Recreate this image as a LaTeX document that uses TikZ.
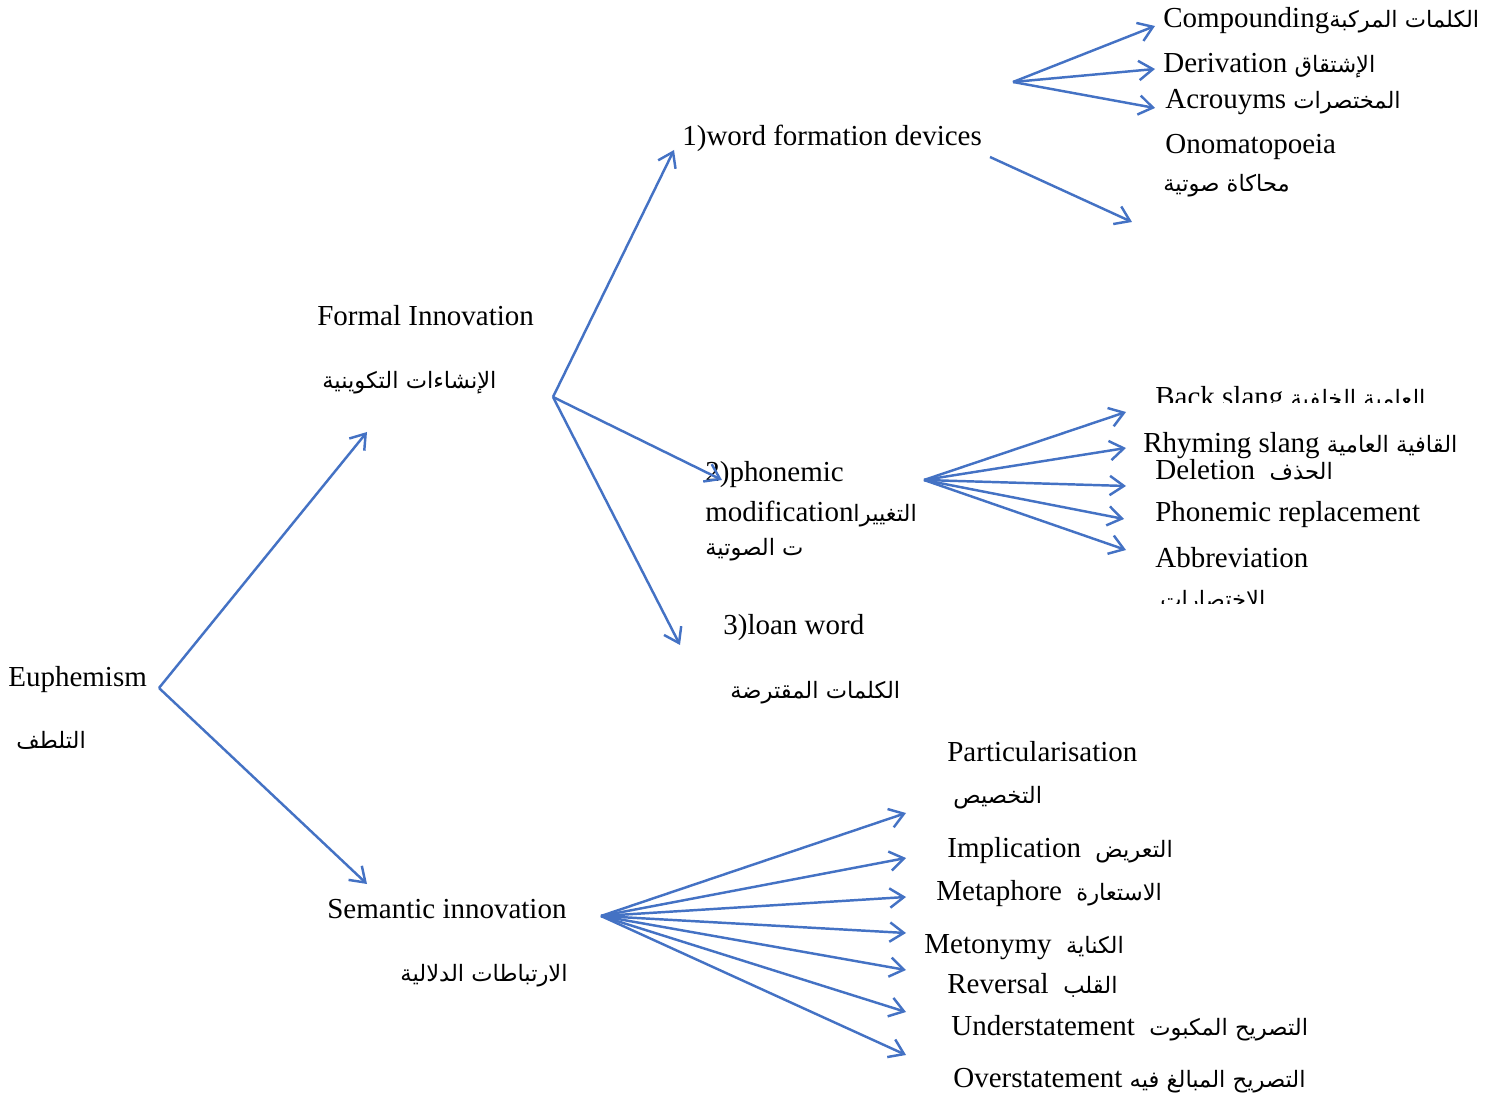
\documentclass[tikz,border=0pt]{standalone}
\usepackage{fontspec}
\setmainfont{Liberation Serif}
\newfontfamily\arabicfont[Script=Arabic,Scale=0.78]{DejaVu Sans}
\TeXXeTstate=1
\usetikzlibrary{arrows.meta}
\definecolor{arrowblue}{RGB}{68,114,196}
\newcommand{\artxt}[1]{{\arabicfont\beginR #1\endR}}

\begin{document}
\begin{tikzpicture}[x=0.02cm,y=-0.02cm]
      \useasboundingbox (0,0) rectangle (1491,1097);
      \fontsize{16.5}{20}\selectfont

      \begin{scope}[every node/.style={anchor=base west,inner sep=0pt}]
        % root
        \node (euph)    at (8,686)   {Euphemism};
        \node (euphar)  at (16,748)  {\artxt{التلطف}};
        % first level
        \node (formal)   at (317,326) {Formal Innovation};
        \node (formalar) at (322,389) {\artxt{الإنشاءات التكوينية}};
        \node (sem)      at (327,918) {Semantic innovation};
        \node[anchor=base east] (semar) at (568,981) {\artxt{الارتباطات الدلالية}};
        % formal innovation
        \node (word)    at (682,146) {1)word formation devices};
        \node (phon)    at (705,482) {2)phonemic};
        \node (phon2)   at (705,522) {modification\artxt{التغييرا}};
        \node (phon3)   at (705,556) {\artxt{ت الصوتية}};
        \node (loan)    at (723,635) {3)loan word};
        \node (loanar)  at (730,699) {\artxt{الكلمات المقترضة}};
        % word formation devices
        \node (comp)    at (1163,28)  {Compounding\artxt{الكلمات المركبة}};
        \node (deriv)   at (1163,73)  {Derivation \artxt{الإشتقاق}};
        \node (acro)    at (1165,109) {Acrouyms \artxt{المختصرات}};
        \node (onom)    at (1165,154) {Onomatopoeia};
        \node (onomar)  at (1163,192) {\artxt{محاكاة صوتية}};
        % phonemic modification
        \node (rhym)    at (1143,453) {Rhyming slang \artxt{القافية العامية}};
        \node (dele)    at (1155,480) {Deletion\ \ \artxt{الحذف}};
        \node (repl)    at (1155,522) {Phonemic replacement};
        \node (abbr)    at (1155,568) {Abbreviation};
        % semantic innovation
        \node (part)    at (947,762)  {Particularisation};
        \node (partar)  at (953,803)  {\artxt{التخصيص}};
        \node (impl)    at (947,857)  {Implication\ \ \artxt{التعريض}};
        \node (meta)    at (936,900)  {Metaphore\ \ \artxt{الاستعارة}};
        \node (meto)    at (924,953)  {Metonymy\ \ \artxt{الكناية}};
        \node (reve)    at (947,993)  {Reversal\ \ \artxt{القلب}};
        \node (unde)    at (951,1035) {Understatement\ \ \artxt{التصريح المكبوت}};
        \node (over)    at (953,1087) {Overstatement \artxt{التصريح المبالغ فيه}};
      \end{scope}

      % cut-off text boxes
      \begin{scope}
        \clip (1100,380) rectangle (1491,403);
        \node[anchor=base west,inner sep=0pt] (back) at (1155,407) {Back slang \artxt{العامية الخلفية}};
      \end{scope}
      \begin{scope}
        \clip (1100,580) rectangle (1491,604);
        \node[anchor=base west,inner sep=0pt] (abbrar) at (1160,608) {\artxt{الاختصارات}};
      \end{scope}

      % hubs and arrow tips
      \coordinate (euphhub)   at (159,688);
      \coordinate (formalhub) at (553,397);
      \coordinate (wordhub)   at (1013,82);
      \coordinate (wordout)   at (990,157);
      \coordinate (phonhub)   at (924,480);
      \coordinate (semhub)    at (601,916);

      \begin{scope}[every edge/.style={draw=arrowblue,line width=1.4pt,
          -{Straight Barb[length=8pt,width=11pt,line width=1.4pt]}}]
        \path (euphhub) edge (367,432);
        \path (euphhub) edge (367,884);

        \path (formalhub) edge (674,150);
        \path (formalhub) edge (722,480);
        \path (formalhub) edge (680,645);

        \path (wordhub) edge (1155,26);
        \path (wordhub) edge (1155,69);
        \path (wordhub) edge (1155,108);
        \path (wordout) edge (1132,222);

        \path (phonhub) edge (1126,412);
        \path (phonhub) edge (1126,448);
        \path (phonhub) edge (1126,486);
        \path (phonhub) edge (1124,519);
        \path (phonhub) edge (1126,550);

        \path (semhub) edge (906,813);
        \path (semhub) edge (906,858);
        \path (semhub) edge (906,897);
        \path (semhub) edge (906,933);
        \path (semhub) edge (906,970);
        \path (semhub) edge (906,1012);
        \path (semhub) edge (906,1055);
      \end{scope}

    \end{tikzpicture}
\end{document}
